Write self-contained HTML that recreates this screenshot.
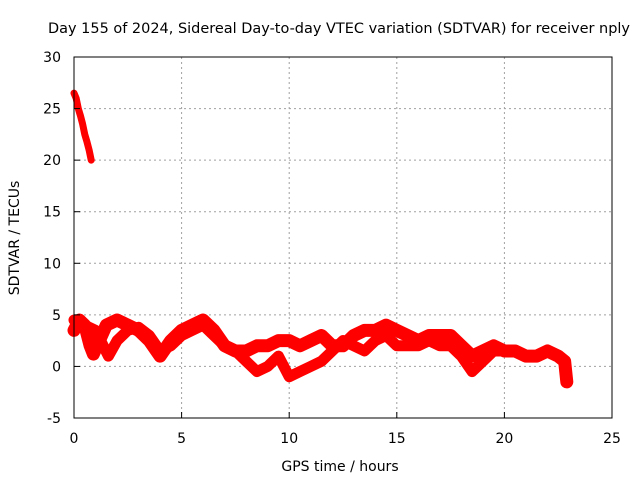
<!DOCTYPE html>
<html><head><meta charset="utf-8"><style>
body{margin:0;background:#fff}
svg{display:block;font-family:"DejaVu Sans","Liberation Sans",sans-serif;font-size:14px}
</style></head><body>
<svg width="640" height="480">
<g id="grid"></g>
<g id="series"></g>
<rect x="74" y="57" width="538" height="361" fill="none" stroke="#000"/>
<g id="ticks"></g>
<text x="339" y="33" text-anchor="middle" textLength="582" lengthAdjust="spacingAndGlyphs">Day 155 of 2024, Sidereal Day-to-day VTEC variation (SDTVAR) for receiver nply</text>
<text x="340" y="471" text-anchor="middle">GPS time / hours</text>
<text transform="translate(19,238) rotate(-90)" text-anchor="middle">SDTVAR / TECUs</text>
</svg>
<script>
const xTicks=[0,5,10,15,20,25];
const yTicks=[-5,0,5,10,15,20,25,30];
const highT=[0,0.1,0.2,0.3,0.4,0.5,0.6,0.7,0.8];
const highV=[26.5,26,25,24.3,23.5,22.5,21.8,21,20];
const aT=[0,0.25,0.5,0.75,0.9,1.5,2,2.5,3,3.5,4,4.5,5,5.5,6,6.5,7,7.5,8,8.5,9,9.5,10,10.5,11,11.5,12,12.5,13,13.5,14,14.5,15,15.5,16,16.5,17,17.5,18,18.5,19,19.5,20,20.5,21,21.5,22,22.5,22.8,22.9];
const aV=[3.5,4.5,4,2,1.2,4,4.5,4,3.5,2.5,1,2.5,3.5,4,4.5,3.5,2,1.5,1.5,2,2,2.5,2.5,2,2.5,3,2,2,3,3.5,3.5,4,3.5,3,2.5,3,3,3,2,1,1.5,2,1.5,1.5,1,1,1.5,1,0.5,-1.5];
const bT=[0,0.5,1,1.6,2,2.5,3,3.5,4,4.5,5,5.5,6,6.5,7,7.5,8,8.5,9,9.5,10,10.5,11,11.5,12,12.5,13,13.5,14,14.5,15,15.5,16,16.5,17,17.5,18,18.5,19,19.5,20];
const bV=[4.5,4,3.5,1,2.5,3.5,3.8,3,1.5,2,3,3.5,4,3,2,1.5,0.5,-0.5,0,1,-1,-0.5,0,0.5,1.5,2.5,2,1.5,2.5,3,2,2,2,2.5,2,2,1,-0.5,0.5,1.5,1.5];
const X=v=>74+v*538/25, Y=v=>418-(v+5)*361/35;
const NS="http://www.w3.org/2000/svg";
const grid=document.getElementById('grid'),ticks=document.getElementById('ticks'),ser=document.getElementById('series');
function mk(p,tag,a){const e=document.createElementNS(NS,tag);for(const k in a)e.setAttribute(k,a[k]);p.appendChild(e);return e;}
xTicks.forEach(t=>{
 if(t>0&&t<25){const g=mk(grid,'line',{x1:X(t),x2:X(t),y1:57,y2:418,stroke:'#a0a0a0','stroke-dasharray':'2,3'});
 
 }
 const l=mk(ticks,'text',{x:X(t),y:443,'text-anchor':'middle'});l.textContent=t;
 
 
 mk(ticks,'line',{x1:X(t),x2:X(t),y1:418,y2:412,stroke:'#000'});
});
yTicks.forEach(t=>{
 if(t>-5&&t<30){const g=mk(grid,'line',{x1:74,x2:612,y1:Y(t),y2:Y(t),stroke:'#a0a0a0','stroke-dasharray':'2,3'});
 
 }
 const l=mk(ticks,'text',{x:61,y:Y(t)+5,'text-anchor':'end'});l.textContent=t;
 
 
 mk(ticks,'line',{x1:74,x2:80,y1:Y(t),y2:Y(t),stroke:'#000'});
});
function track(T,V,w,name){
 const p=mk(ser,'polyline',{points:T.map((t,i)=>X(t)+','+Y(V[i])).join(' '),fill:'none',stroke:'#ff0000','stroke-width':w,'stroke-linejoin':'round','stroke-linecap':'round'});
 
 
}
track(highT,highV,7,'track-high');
track(aT,aV,13,'track-a');
track(bT,bV,11,'track-b');
</script>
</body></html>
